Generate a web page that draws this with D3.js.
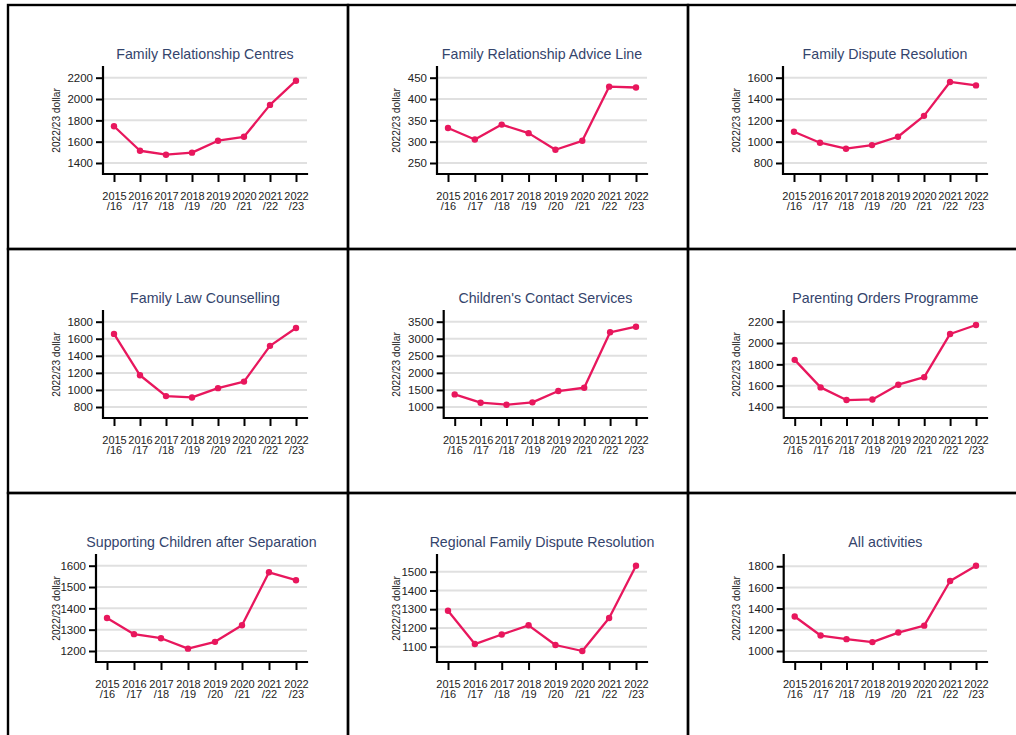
<!DOCTYPE html>
<html>
<head>
<meta charset="utf-8">
<script src="https://cdn.jsdelivr.net/npm/d3@7"></script>
<style>
  html, body { margin: 0; padding: 0; background: #ffffff; }
  svg { display: block; font-family: "Liberation Sans", Arial, sans-serif; }
</style>
</head>
<body>
<svg id="chart" width="1016" height="735"></svg>
<script>
// Financial years shown on every panel
const years = ["2015/16", "2016/17", "2017/18", "2018/19", "2019/20", "2020/21", "2021/22", "2022/23"];

// Panel titles, in reading order
const titles = [
  "Family Relationship Centres",
  "Family Relationship Advice Line",
  "Family Dispute Resolution",
  "Family Law Counselling",
  "Children's Contact Services",
  "Parenting Orders Programme",
  "Supporting Children after Separation",
  "Regional Family Dispute Resolution",
  "All activities"
];

// Cost per client, 2022/23 dollars
const familyRelationshipCentres   = [1745, 1515, 1478, 1497, 1609, 1646, 1945, 2172];
const adviceLine                  = [332, 305, 340, 320, 281, 302, 429, 427];
const familyDisputeResolution     = [1093, 990, 934, 968, 1046, 1242, 1560, 1528];
const familyLawCounselling        = [1657, 1172, 928, 912, 1021, 1098, 1517, 1726];
const childrensContactServices    = [1370, 1126, 1068, 1136, 1467, 1564, 3189, 3354];
const parentingOrdersProgramme    = [1842, 1584, 1465, 1471, 1609, 1680, 2085, 2169];
const supportingChildren          = [1355, 1279, 1260, 1211, 1243, 1321, 1569, 1532];
const regionalDisputeResolution   = [1292, 1114, 1165, 1214, 1109, 1077, 1253, 1532];
const allActivities               = [1326, 1146, 1112, 1084, 1174, 1239, 1661, 1805];

const seriesValues = [
  familyRelationshipCentres, adviceLine, familyDisputeResolution,
  familyLawCounselling, childrensContactServices, parentingOrdersProgramme,
  supportingChildren, regionalDisputeResolution, allActivities
];

// Y-axis tick labels per panel
const yTicks = [
  [1400, 1600, 1800, 2000, 2200],
  [250, 300, 350, 400, 450],
  [800, 1000, 1200, 1400, 1600],
  [800, 1000, 1200, 1400, 1600, 1800],
  [1000, 1500, 2000, 2500, 3000, 3500],
  [1400, 1600, 1800, 2000, 2200],
  [1200, 1300, 1400, 1500, 1600],
  [1100, 1200, 1300, 1400, 1500],
  [1000, 1200, 1400, 1600, 1800]
];

// ---- layout & style ----
const cellW = 340, cellH = 244, gridX = 8, gridY = 5;
const plotLeftOffsets = [95, 89, 95, 95, 95.7, 95.7, 88, 89, 95.7];
const plotRight = 299, plotTop = 62, plotBottom = 169;
const padX = 11, padTop = 10.7, padBottom = 11;
const lineColor = "#e8175d";
const titleColor = "#34446c";
const textColor = "#222222";

const svg = d3.select("#chart");

// cell borders
const borders = svg.append("g");
for (let r = 0; r < 3; r++) {
  for (let c = 0; c < 3; c++) {
    borders.append("rect")
      .attr("x", gridX + c * cellW)
      .attr("y", gridY + r * cellH)
      .attr("width", cellW)
      .attr("height", cellH)
      .attr("fill", "none")
      .attr("stroke", "#000")
      .attr("stroke-width", 2.4);
  }
}

titles.forEach((title, i) => {
  const r = Math.floor(i / 3), c = i % 3;
  const x0 = gridX + c * cellW, y0 = gridY + r * cellH;
  const values = seriesValues[i];
  const ticks = yTicks[i];

  const left = x0 + plotLeftOffsets[i];
  const right = x0 + plotRight;
  const top = y0 + plotTop;
  const bottom = y0 + plotBottom;

  const g = svg.append("g");

  const x = d3.scalePoint()
    .domain(years)
    .range([left + padX, right - padX]);

  const lo = Math.min(d3.min(ticks), d3.min(values));
  const hi = Math.max(d3.max(ticks), d3.max(values));
  const y = d3.scaleLinear()
    .domain([lo, hi])
    .range([bottom - padBottom, top + padTop]);

  // gridlines
  g.append("g")
    .selectAll("line")
    .data(ticks)
    .join("line")
    .attr("x1", left)
    .attr("x2", right)
    .attr("y1", d => y(d))
    .attr("y2", d => y(d))
    .attr("stroke", "#e0e0e0")
    .attr("stroke-width", 2);

  // y axis ticks + labels
  const yAxis = g.append("g")
    .attr("transform", `translate(${left},0)`)
    .call(d3.axisLeft(y).tickValues(ticks).tickSize(7).tickPadding(3).tickFormat(d3.format("d")));
  yAxis.select(".domain").remove();
  yAxis.selectAll(".tick line").attr("stroke", "#000").attr("stroke-width", 2);
  yAxis.selectAll(".tick text")
    .attr("fill", textColor)
    .style("font-size", "11.5px")
    .style("font-family", "'Liberation Sans', Arial, sans-serif");

  // x axis ticks + two-line labels
  const xAxis = g.append("g")
    .attr("transform", `translate(0,${bottom})`)
    .call(d3.axisBottom(x).tickSize(8).tickFormat(""));
  xAxis.select(".domain").remove();
  xAxis.selectAll(".tick line").attr("stroke", "#000").attr("stroke-width", 2);
  xAxis.selectAll(".tick").each(function (d) {
    const parts = d.split("/");
    const t = d3.select(this).append("text")
      .attr("text-anchor", "middle")
      .attr("fill", textColor)
      .style("font-size", "11px");
    t.append("tspan").attr("x", 0).attr("y", 25.5).text(parts[0]);
    t.append("tspan").attr("x", 0).attr("y", 36).text("/" + parts[1]);
  });

  // axis lines
  g.append("path")
    .attr("d", `M${left},${top}V${bottom}H${right}`)
    .attr("fill", "none")
    .attr("stroke", "#000")
    .attr("stroke-width", 2.2)
    .attr("stroke-linecap", "square");

  // series line
  const pts = years.map((yr, k) => ({ yr, v: values[k] }));
  g.append("path")
    .datum(pts)
    .attr("fill", "none")
    .attr("stroke", lineColor)
    .attr("stroke-width", 2.3)
    .attr("stroke-linejoin", "round")
    .attr("d", d3.line().x(d => x(d.yr)).y(d => y(d.v)));

  g.append("g")
    .selectAll("circle")
    .data(pts)
    .join("circle")
    .attr("cx", d => x(d.yr))
    .attr("cy", d => y(d.v))
    .attr("r", 3.2)
    .attr("fill", lineColor);

  // title
  g.append("text")
    .attr("x", (left + right) / 2)
    .attr("y", y0 + 54)
    .attr("text-anchor", "middle")
    .attr("fill", titleColor)
    .style("font-size", "14.2px")
    .text(title);

  // y axis title
  const cy = (top + bottom) / 2;
  g.append("text")
    .attr("transform", `translate(${x0 + 51.5},${cy}) rotate(-90)`)
    .attr("text-anchor", "middle")
    .attr("fill", textColor)
    .style("font-size", "10.2px")
    .text("2022/23 dollar");
});
</script>
</body>
</html>
